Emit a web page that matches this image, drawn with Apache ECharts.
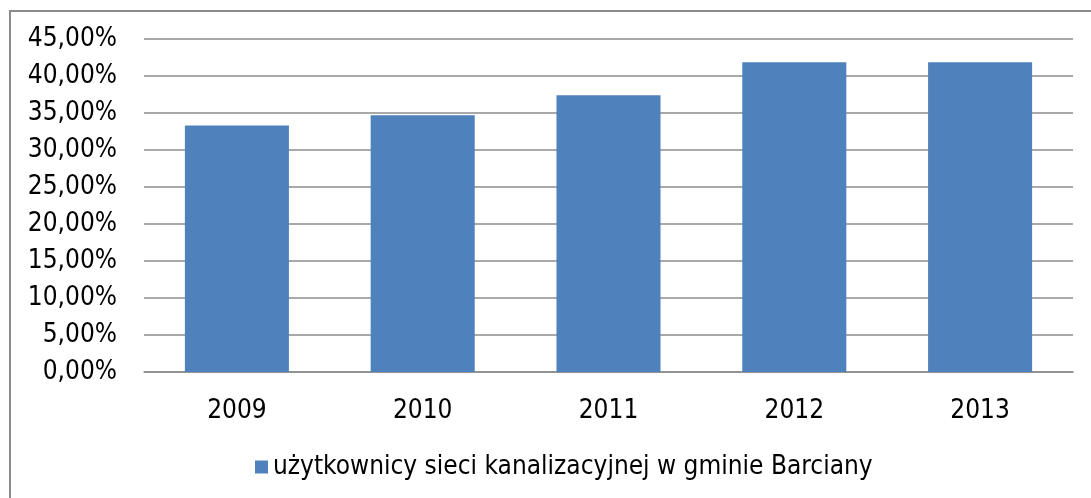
<!DOCTYPE html>
<html>
<head>
<meta charset="utf-8">
<script src="https://cdn.jsdelivr.net/npm/echarts@6/dist/echarts.min.js"></script>
<style>
  html, body { margin: 0; padding: 0; background: #fff; }
  #chart { width: 1091px; height: 498px; }
</style>
</head>
<body>
<div id="chart"></div>
<script>
// lata i udział użytkowników sieci kanalizacyjnej (%)
var years = ["2009", "2010", "2011", "2012", "2013"];
var users = [33.3, 34.7, 37.4, 41.85, 41.85];
var seriesName = "użytkownicy sieci kanalizacyjnej w gminie Barciany";

var font = "'DejaVu Sans Condensed', 'Liberation Sans', sans-serif";
var gridColor = "#8c8c8c";

var myChart = echarts.init(document.getElementById("chart"));
myChart.setOption({
  animation: false,
  graphic: [
    {
      type: "rect",
      shape: { x: 10, y: 11, width: 1100, height: 500 },
      style: { fill: "none", stroke: "#8a8a8a", lineWidth: 2 },
      silent: true
    }
  ],
  grid: { left: 144, right: 18, top: 39, bottom: 126 },
  legend: {
    left: 250,
    top: 449,
    icon: "rect",
    itemWidth: 13,
    itemHeight: 13,
    textStyle: { fontFamily: font, fontSize: 26, color: "#000" },
    data: [seriesName]
  },
  xAxis: {
    type: "category",
    data: years,
    axisLine: { lineStyle: { color: gridColor, width: 1.5 } },
    axisTick: { show: false },
    axisLabel: { fontFamily: font, fontSize: 26, color: "#000", margin: 26 }
  },
  yAxis: {
    type: "value",
    min: 0,
    max: 45,
    interval: 5,
    axisLine: { show: false },
    axisTick: { show: false },
    splitLine: { lineStyle: { color: gridColor, width: 1.5 } },
    axisLabel: {
      fontFamily: font,
      fontSize: 26,
      color: "#000",
      margin: 27,
      formatter: function (v) {
        return v.toFixed(2).replace(".", ",") + "%";
      }
    }
  },
  series: [
    {
      name: seriesName,
      type: "bar",
      data: users,
      barCategoryGap: "44%",
      itemStyle: { color: "#4f81bd" }
    }
  ]
});
</script>
</body>
</html>
